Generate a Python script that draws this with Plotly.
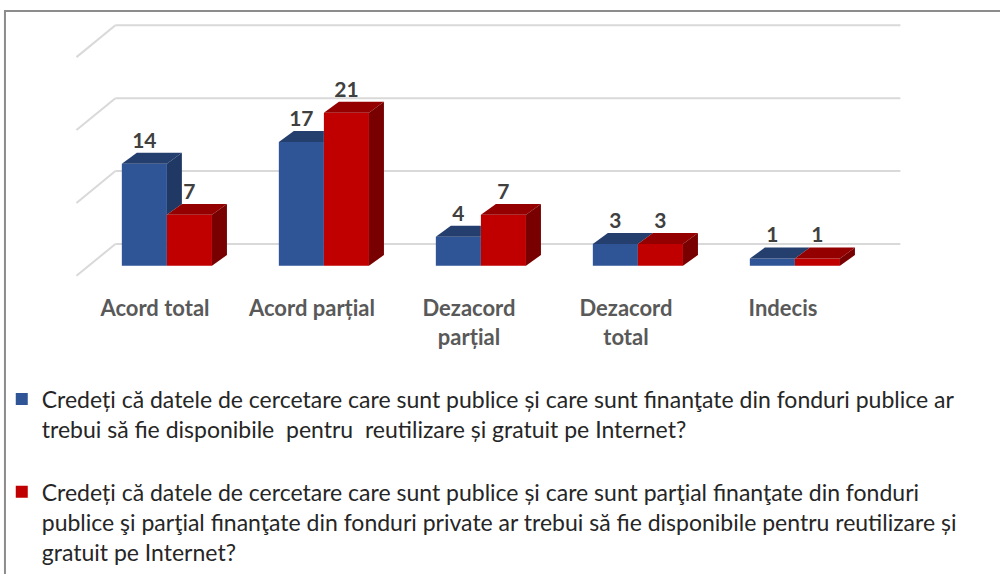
import plotly.graph_objects as go

# ---------- Data ----------
categories = ["Acord total", "Acord parțial", "Dezacord<br>parțial", "Dezacord<br>total", "Indecis"]
public_funded = [14, 17, 4, 3, 1]
mixed_funded = [7, 21, 7, 3, 1]
grid_vals = [0, 10, 20, 30]

name_public = ("Credeți că datele de cercetare care sunt publice și care sunt finanţate din fonduri publice ar<br>"
               "trebui să fie disponibile  pentru  reutilizare și gratuit pe Internet?")
name_mixed = ("Credeți că datele de cercetare care sunt publice și care sunt parţial finanţate din fonduri<br>"
              "publice şi parţial finanţate din fonduri private ar trebui să fie disponibile pentru reutilizare și<br>"
              "gratuit pe Internet?")

# ---------- 3D look (in axis units) ----------
bar_w = 0.287
ddx, ddy = 0.0955, 1.5      # bar depth
bdx, bdy = 0.172, 3.0       # back wall offset
fdx, fdy = -0.076, -1.37    # front floor edge offset

blue = dict(front="#2F5597", top="#243F6E", side="#1F3864")
red = dict(front="#C00000", top="#940000", side="#780000")

fig = go.Figure()
n = len(categories)
idx = list(range(n))
xb = [i - bar_w / 2 for i in idx]
xr = [i + bar_w / 2 for i in idx]


def poly(xs, ys, color):
    fig.add_trace(go.Scatter(x=xs, y=ys, fill="toself", fillcolor=color, mode="lines",
                             line=dict(width=0), hoverinfo="skip", showlegend=False))


# front faces as bars
fig.add_trace(go.Bar(x=xb, y=public_funded, width=bar_w, marker_color=blue["front"],
                     marker_line_width=0, name=name_public, legendgroup="a"))
fig.add_trace(go.Bar(x=xr, y=mixed_funded, width=bar_w, marker_color=red["front"],
                     marker_line_width=0, name=name_mixed, legendgroup="b"))

for i in idx:
    b, r = public_funded[i], mixed_funded[i]
    # blue bar top + side
    x0, x1 = xb[i] - bar_w / 2, xb[i] + bar_w / 2
    if r > b:
        poly([x0, x1, x1, x0 + ddx], [b, b, b + ddy, b + ddy], blue["top"])
    else:
        poly([x0, x1, x1 + ddx, x0 + ddx], [b, b, b + ddy, b + ddy], blue["top"])
        poly([x1, x1, x1 + ddx, x1 + ddx], [r, b, b + ddy, r + ddy], blue["side"])
    # red bar top + side
    x0, x1 = xr[i] - bar_w / 2, xr[i] + bar_w / 2
    poly([x0, x1, x1 + ddx, x0 + ddx], [r, r, r + ddy, r + ddy], red["top"])
    poly([x1, x1, x1 + ddx, x1 + ddx], [0, r, r + ddy, ddy], red["side"])

# value labels
fig.add_trace(go.Scatter(x=xb + xr, y=[v + ddy for v in public_funded + mixed_funded],
                         text=[str(v) for v in public_funded + mixed_funded],
                         mode="text", textposition="top center",
                         textfont=dict(family="Lato, sans-serif", size=21, color="#404040", weight="bold"),
                         hoverinfo="skip", showlegend=False))

# gridlines on back wall + floor diagonals
shapes = []
for g in grid_vals:
    shapes.append(dict(type="line", xref="x", yref="y", layer="below",
                       x0=-0.5 + bdx, x1=n - 0.5 + bdx, y0=g + bdy, y1=g + bdy,
                       line=dict(color="#D9D9D9", width=2)))
    shapes.append(dict(type="line", xref="x", yref="y", layer="below",
                       x0=-0.5 + fdx, x1=-0.5 + bdx, y0=g + fdy, y1=g + bdy,
                       line=dict(color="#D9D9D9", width=2)))

# outer border
shapes.append(dict(type="rect", xref="paper", yref="paper", x0=-0.0603, x1=1.2, y0=-1.2, y1=1.025,
                   line=dict(color="#8C8C8C", width=2)))

fig.update_layout(
    width=1000, height=574,
    margin=dict(l=57, r=80, t=17.8, b=278.6, autoexpand=False),
    paper_bgcolor="white", plot_bgcolor="white",
    barmode="overlay",
    shapes=shapes,
    xaxis=dict(range=[-0.7, -0.7 + 863 / 157], tickvals=[i + fdx for i in idx], ticktext=categories,
               showgrid=False, zeroline=False, showline=False, ticks="", ticklabelstandoff=-2,
               tickfont=dict(family="Lato, sans-serif", size=22, color="#595959", weight="bold")),
    yaxis=dict(range=[-4, 34], showgrid=False, zeroline=False, showticklabels=False, ticks=""),
    legend=dict(x=-0.064, xanchor="left", y=-0.298, yanchor="top", valign="top",
                font=dict(family="Lato, sans-serif", size=23, color="#262626"),
                tracegroupgap=30, bgcolor="rgba(0,0,0,0)"),
    showlegend=True,
)

fig.write_html("out.html", config={"displayModeBar": False},
               post_script="document.body.style.margin='0';document.body.style.overflow='hidden';")
